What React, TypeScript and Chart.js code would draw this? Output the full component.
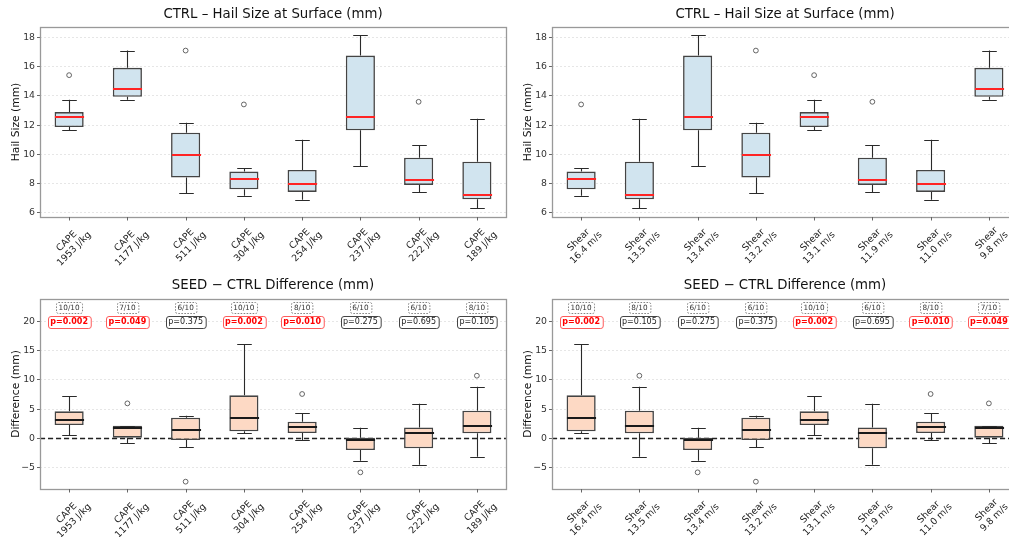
import React, { useEffect, useRef } from "react";
import { Chart, registerables } from "chart.js";
Chart.register(...registerables);

const FONT = '"DejaVu Sans", sans-serif';

// ---------- data ----------
const capeValues = ["1953 J/kg", "1177 J/kg", "511 J/kg", "304 J/kg", "254 J/kg", "237 J/kg", "222 J/kg", "189 J/kg"];
const shearValues = ["16.4 m/s", "13.5 m/s", "13.4 m/s", "13.2 m/s", "13.1 m/s", "11.9 m/s", "11.0 m/s", "9.8 m/s"];
// index of each shear category in the CAPE-ordered arrays
const shearOrder = [3, 7, 5, 2, 0, 6, 4, 1];

// CTRL hail size box statistics (CAPE order)
const ctrlLow = [11.64, 13.73, 7.36, 7.18, 6.89, 9.18, 7.43, 6.32];
const ctrlQ1 = [11.86, 13.93, 8.41, 7.61, 7.43, 11.64, 7.91, 6.93];
const ctrlMed = [12.52, 14.45, 9.95, 8.34, 7.95, 12.57, 8.23, 7.2];
const ctrlQ3 = [12.89, 15.91, 11.48, 8.82, 8.93, 16.75, 9.77, 9.5];
const ctrlHigh = [13.73, 17.09, 12.16, 9.07, 11.0, 18.14, 10.61, 12.43];
const ctrlOut: (number | null)[] = [15.41, null, 17.09, 13.41, null, null, 13.59, null];

// SEED - CTRL difference box statistics (CAPE order)
const diffLow = [0.49, -0.89, -1.57, 0.83, -0.31, -3.86, -4.54, -3.17];
const diffQ1 = [2.27, 0.09, -0.31, 1.18, 0.89, -2.03, -1.74, 0.83];
const diffMed = [3.07, 1.75, 1.41, 3.52, 1.92, -0.31, 0.95, 2.09];
const diffQ3 = [4.61, 2.15, 3.52, 7.36, 2.84, 0.09, 1.86, 4.73];
const diffHigh = [7.24, 2.15, 3.87, 16.11, 4.27, 1.81, 5.93, 8.84];
const diffOut: (number | null)[] = [null, 5.98, -7.46, null, 7.59, -5.86, null, 10.73];
const pValues = [0.002, 0.049, 0.375, 0.002, 0.01, 0.275, 0.695, 0.105];
const positiveCounts = ["10/10", "7/10", "6/10", "10/10", "8/10", "6/10", "6/10", "8/10"];

const ctrlTicks = [6, 8, 10, 12, 14, 16, 18];
const diffTicks = [-5, 0, 5, 10, 15, 20];
const ctrlRange = [5.72, 18.7];
const diffRange = [-8.72, 23.9];
const pLabelY = 20;
const countLabelY = 22.5;

function pick<T>(arr: T[], order: number[] | null): T[] {
  return order ? order.map((i) => arr[i]) : arr.slice();
}

interface PanelCfg {
  title: string;
  yTitle: string;
  labels: string[][];
  low: number[];
  q1: number[];
  med: number[];
  q3: number[];
  high: number[];
  out: (number | null)[];
  yMin: number;
  yMax: number;
  yTicks: number[];
  fill: string;
  medColor: string;
  pvals?: number[];
  counts?: string[];
  zeroLine: boolean;
  left: number;
  top: number;
  width: number;
  height: number;
  padTop: number;
  xHeight: number;
  padBottom: number;
  titleY: number;
}

function roundRectPath(ctx: CanvasRenderingContext2D, x: number, y: number, w: number, h: number, r: number) {
  ctx.beginPath();
  ctx.moveTo(x + r, y);
  ctx.lineTo(x + w - r, y);
  ctx.arcTo(x + w, y, x + w, y + r, r);
  ctx.lineTo(x + w, y + h - r);
  ctx.arcTo(x + w, y + h, x + w - r, y + h, r);
  ctx.lineTo(x + r, y + h);
  ctx.arcTo(x, y + h, x, y + h - r, r);
  ctx.lineTo(x, y + r);
  ctx.arcTo(x, y, x + r, y, r);
  ctx.closePath();
}

function makePlugin(cfg: PanelCfg) {
  return {
    id: "boxExtras",
    beforeDatasetsDraw(chart: any) {
      if (!cfg.zeroLine) return;
      const { ctx, chartArea: ca } = chart;
      const y = chart.scales.y;
      const py = Math.round(y.getPixelForValue(0)) + 0.5;
      ctx.save();
      ctx.strokeStyle = "#222";
      ctx.lineWidth = 1.3;
      ctx.setLineDash([5, 3]);
      ctx.beginPath();
      ctx.moveTo(ca.left, py);
      ctx.lineTo(ca.right, py);
      ctx.stroke();
      ctx.restore();
    },
    afterDatasetsDraw(chart: any) {
      const { ctx, chartArea: ca } = chart;
      const x = chart.scales.x;
      const y = chart.scales.y;
      const bars = chart.getDatasetMeta(0).data;
      ctx.save();
      for (let i = 0; i < cfg.labels.length; i++) {
        const cx = Math.round(x.getPixelForValue(i)) + 0.5;
        const bw = bars[i].width;
        const yHigh = y.getPixelForValue(cfg.high[i]);
        const yLow = y.getPixelForValue(cfg.low[i]);
        const yQ1 = y.getPixelForValue(cfg.q1[i]);
        const yQ3 = y.getPixelForValue(cfg.q3[i]);
        const yMed = y.getPixelForValue(cfg.med[i]);
        ctx.strokeStyle = "#2a2a2a";
        ctx.lineWidth = 1.1;
        ctx.setLineDash([]);
        ctx.beginPath();
        ctx.moveTo(cx, yQ3);
        ctx.lineTo(cx, yHigh);
        ctx.moveTo(cx, yQ1);
        ctx.lineTo(cx, yLow);
        ctx.moveTo(cx - bw / 4, Math.round(yHigh) + 0.5);
        ctx.lineTo(cx + bw / 4, Math.round(yHigh) + 0.5);
        ctx.moveTo(cx - bw / 4, Math.round(yLow) + 0.5);
        ctx.lineTo(cx + bw / 4, Math.round(yLow) + 0.5);
        ctx.stroke();
        ctx.strokeStyle = cfg.medColor;
        ctx.lineWidth = 2;
        ctx.beginPath();
        ctx.moveTo(cx - bw / 2, Math.round(yMed));
        ctx.lineTo(cx + bw / 2, Math.round(yMed));
        ctx.stroke();
      }
      // annotations
      if (cfg.pvals && cfg.counts) {
        for (let i = 0; i < cfg.labels.length; i++) {
          const cx = x.getPixelForValue(i);
          // count box
          const ny = y.getPixelForValue(countLabelY);
          ctx.font = `7.3px ${FONT}`;
          const nt = cfg.counts[i];
          const nw = ctx.measureText(nt).width + 5;
          const nh = 11;
          roundRectPath(ctx, Math.round(cx - nw / 2) + 0.5, Math.round(ny - nh / 2) + 0.5, nw, nh, 2);
          ctx.fillStyle = "#fff";
          ctx.fill();
          ctx.setLineDash([1.6, 1.4]);
          ctx.strokeStyle = "#777";
          ctx.lineWidth = 0.9;
          ctx.stroke();
          ctx.setLineDash([]);
          ctx.fillStyle = "#333";
          ctx.textAlign = "center";
          ctx.textBaseline = "middle";
          ctx.fillText(nt, cx, ny + 0.5);
          // p box
          const p = cfg.pvals[i];
          const sig = p < 0.05;
          const py = y.getPixelForValue(pLabelY);
          ctx.font = `${sig ? "bold " : ""}8px ${FONT}`;
          const pt = `p=${p.toFixed(3)}`;
          const pw = ctx.measureText(pt).width + 5;
          const ph = 12;
          roundRectPath(ctx, Math.round(cx - pw / 2) + 0.5, Math.round(py - ph / 2) + 0.5, pw, ph, 2.5);
          ctx.fillStyle = "#fff";
          ctx.fill();
          ctx.strokeStyle = sig ? "#ff5a5a" : "#444";
          ctx.lineWidth = 1;
          ctx.stroke();
          ctx.fillStyle = sig ? "#ff0000" : "#222";
          ctx.fillText(pt, cx, py + 0.5);
        }
      }
      // spines
      ctx.strokeStyle = "#999";
      ctx.lineWidth = 1.3;
      ctx.strokeRect(ca.left + 0.5, ca.top + 0.5, ca.right - ca.left, ca.bottom - ca.top);
      ctx.restore();
    },
    afterDraw(chart: any) {
      const { ctx, chartArea: ca } = chart;
      const x = chart.scales.x;
      ctx.save();
      // title
      ctx.fillStyle = "#111";
      ctx.font = `13.3px ${FONT}`;
      ctx.textAlign = "center";
      ctx.textBaseline = "middle";
      ctx.fillText(cfg.title, (ca.left + ca.right) / 2, cfg.titleY);
      // y title
      ctx.save();
      ctx.translate(16.7, (ca.top + ca.bottom) / 2);
      ctx.rotate(-Math.PI / 2);
      ctx.font = `10.7px ${FONT}`;
      ctx.fillText(cfg.yTitle, 0, 0);
      ctx.restore();
      // x ticks and rotated labels
      const fs = 9.33;
      const lh = fs * 1.15;
      ctx.font = `${fs}px ${FONT}`;
      for (let i = 0; i < cfg.labels.length; i++) {
        const cx = Math.round(x.getPixelForValue(i)) + 0.5;
        ctx.strokeStyle = "#666";
        ctx.lineWidth = 1;
        ctx.beginPath();
        ctx.moveTo(cx, ca.bottom);
        ctx.lineTo(cx, ca.bottom + 3.5);
        ctx.stroke();
        const lines = cfg.labels[i];
        const W = Math.max(...lines.map((l) => ctx.measureText(l).width));
        const H = lines.length * lh;
        const half = (W + H) * 0.35355;
        const top = ca.bottom + 5;
        ctx.save();
        ctx.translate(cx + 1, top + half);
        ctx.rotate(-Math.PI / 4);
        ctx.fillStyle = "#222";
        ctx.textAlign = "center";
        ctx.textBaseline = "middle";
        lines.forEach((l, k) => {
          ctx.fillText(l, 0, -H / 2 + lh * (k + 0.5));
        });
        ctx.restore();
      }
      ctx.restore();
    },
  };
}

function BoxPanel({ cfg }: { cfg: PanelCfg }) {
  const ref = useRef<HTMLCanvasElement | null>(null);
  useEffect(() => {
    if (!ref.current) return;
    const chart = new Chart(ref.current, {
      type: "bar",
      data: {
        labels: cfg.labels as any,
        datasets: [
          {
            type: "bar",
            data: cfg.q1.map((v, i) => [v, cfg.q3[i]]) as any,
            backgroundColor: cfg.fill,
            borderColor: "#444",
            borderWidth: 1.6,
            borderSkipped: false,
            barPercentage: 0.5,
            categoryPercentage: 1,
            order: 2,
          } as any,
          {
            type: "line",
            data: cfg.out as any,
            showLine: false,
            pointRadius: 2.4,
            pointHoverRadius: 2.4,
            pointBorderColor: "#555",
            pointBackgroundColor: "rgba(0,0,0,0)",
            pointBorderWidth: 0.9,
            order: 1,
          } as any,
        ],
      },
      options: {
        responsive: false,
        animation: false,
        devicePixelRatio: 1,
        events: [],
        layout: { padding: { left: 5, right: 6, top: cfg.padTop, bottom: cfg.padBottom } },
        plugins: { legend: { display: false }, tooltip: { enabled: false }, title: { display: false } },
        scales: {
          x: {
            type: "category",
            offset: true,
            grid: { display: false },
            border: { display: false },
            ticks: { display: false },
            afterFit: (s: any) => {
              s.height = cfg.xHeight;
            },
          },
          y: {
            type: "linear",
            min: cfg.yMin,
            max: cfg.yMax,
            afterBuildTicks: (s: any) => {
              s.ticks = cfg.yTicks.map((v) => ({ value: v }));
            },
            ticks: {
              font: { family: FONT, size: 9.33 },
              color: "#333",
              padding: 2,
              callback: (v: any) => (v < 0 ? "\u2212" + Math.abs(v) : String(v)),
            },
            grid: {
              color: "#e0e0e0",
              lineWidth: 0.8,
              tickLength: 3,
              tickColor: "#666",
              tickWidth: 1,
              tickBorderDash: [],
            },
            border: { display: false, dash: [2, 2] },
            afterFit: (s: any) => {
              s.width = 35;
            },
          } as any,
        },
      } as any,
      plugins: [makePlugin(cfg)],
    });
    return () => chart.destroy();
  }, [cfg]);
  return (
    <canvas
      ref={ref}
      width={cfg.width}
      height={cfg.height}
      style={{ position: "absolute", left: cfg.left, top: cfg.top, width: cfg.width, height: cfg.height }}
    />
  );
}

const capeLabels = capeValues.map((v) => ["CAPE", v]);
const shearLabels = shearValues.map((v) => ["Shear", v]);

function ctrlPanel(order: number[] | null, labels: string[][], left: number): PanelCfg {
  return {
    title: "CTRL \u2013 Hail Size at Surface (mm)",
    yTitle: "Hail Size (mm)",
    labels,
    low: pick(ctrlLow, order),
    q1: pick(ctrlQ1, order),
    med: pick(ctrlMed, order),
    q3: pick(ctrlQ3, order),
    high: pick(ctrlHigh, order),
    out: pick(ctrlOut, order),
    yMin: ctrlRange[0],
    yMax: ctrlRange[1],
    yTicks: ctrlTicks,
    fill: "#d1e4ef",
    medColor: "#ff2424",
    zeroLine: false,
    left,
    top: 0,
    width: 512,
    height: 268,
    padTop: 27,
    xHeight: 45,
    padBottom: 6,
    titleY: 14.5,
  };
}

function diffPanel(order: number[] | null, labels: string[][], left: number): PanelCfg {
  return {
    title: "SEED \u2212 CTRL Difference (mm)",
    yTitle: "Difference (mm)",
    labels,
    low: pick(diffLow, order),
    q1: pick(diffQ1, order),
    med: pick(diffMed, order),
    q3: pick(diffQ3, order),
    high: pick(diffHigh, order),
    out: pick(diffOut, order),
    yMin: diffRange[0],
    yMax: diffRange[1],
    yTicks: diffTicks,
    fill: "#fdd9c4",
    medColor: "#1a1a1a",
    pvals: pick(pValues, order),
    counts: pick(positiveCounts, order),
    zeroLine: true,
    left,
    top: 270,
    width: 512,
    height: 267,
    padTop: 29,
    xHeight: 42,
    padBottom: 6,
    titleY: 16,
  };
}

const panels: PanelCfg[] = [
  ctrlPanel(null, capeLabels, 0),
  ctrlPanel(shearOrder, shearLabels, 512),
  diffPanel(null, capeLabels, 0),
  diffPanel(shearOrder, shearLabels, 512),
];

export default function App() {
  return (
    <div
      style={{
        position: "absolute",
        left: 0,
        top: 0,
        width: 1009,
        height: 537,
        overflow: "hidden",
        background: "#fff",
      }}
    >
      {panels.map((p, i) => (
        <BoxPanel key={i} cfg={p} />
      ))}
    </div>
  );
}
